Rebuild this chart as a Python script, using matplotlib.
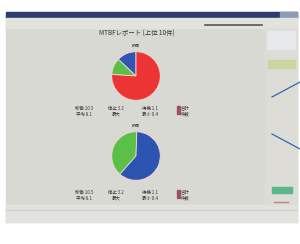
import matplotlib
matplotlib.use("Agg")
import matplotlib.pyplot as plt
from matplotlib.patches import Rectangle

plt.rcParams['font.family'] = ['Noto Sans CJK JP', 'DejaVu Sans']

# data
title = "MTBFレポート (上位 10件)"
pie_labels = ["設備A", "設備B", "設備C"]
top_values = [13, 11, 76]       # blue, green, red
top_colors = ["#3454b4", "#5cc046", "#ec3434"]
bottom_values = [39, 61]        # green, blue
bottom_colors = ["#5cbf48", "#2c54b0"]
legend_rows = [["稼働 10.5", "停止 3.2", "待機 1.1", "合計"],
               ["平均 8.1", "最大", "最小 0.4", "件数"]]


def main():
    fig = plt.figure(figsize=(3.0, 2.44), dpi=100)
    fig.patch.set_facecolor("white")

    # full-figure axes in pixel coordinates for the window frame
    ui = fig.add_axes([0, 0, 1, 1])
    ui.set_xlim(0, 300)
    ui.set_ylim(244, 0)
    ui.axis("off")

    # window body
    ui.add_patch(Rectangle((6, 12), 291, 210, color="#d9d9d3", zorder=0))
    # title bar
    ui.add_patch(Rectangle((6, 12), 291, 5.5, color="#2c3c70", zorder=1))
    ui.add_patch(Rectangle((280, 12), 17, 5.5, color="#8f9ab8", zorder=1))
    # toolbar strip
    ui.add_patch(Rectangle((6, 17.5), 291, 10, color="#e2e4dc", zorder=1))
    ui.plot([205, 262], [25, 25], color="#555555", lw=1.2, zorder=2)
    # right side panel
    ui.add_patch(Rectangle((265, 27.5), 32, 178, color="#dddcd6", zorder=1))
    ui.add_patch(Rectangle((267, 31), 28, 18, color="#e6e8ec", zorder=2))
    ui.add_patch(Rectangle((268, 60), 27, 8, color="#c9d6a0", zorder=2))
    ui.add_patch(Rectangle((272, 187), 20, 6, color="#5ab888", zorder=2))
    ui.plot([274, 288], [202, 202], color="#c08080", lw=1, zorder=2)
    # bottom status strip
    ui.add_patch(Rectangle((6, 205), 291, 17, color="#e2e2de", zorder=1))
    ui.plot([6, 297], [210, 210], color="#cfcfca", lw=0.8, zorder=2)

    # header text
    ui.text(137, 34, title, fontsize=4.6, color="#333333",
            ha="center", va="center", zorder=3)
    ui.text(136, 46, "設備", fontsize=2.8, color="#444444",
            ha="center", va="center", zorder=3)
    ui.text(136, 126, "設備", fontsize=2.8, color="#444444",
            ha="center", va="center", zorder=3)

    # legend blocks under each pie
    cols = [84, 116, 150, 185]
    for y0 in (108, 192):
        for r, row in enumerate(legend_rows):
            for c, txt in enumerate(row):
                ui.text(cols[c], y0 + r * 6, txt, fontsize=3.2, color="#333333",
                        ha="center", va="center", zorder=3)
        ui.add_patch(Rectangle((177, y0 - 2), 3, 8, color="#9a5060", zorder=3))

    # annotation lines outside the window
    ui.plot([272, 300], [97, 82], color="#2a6cb4", lw=0.9, zorder=4)
    ui.plot([272, 300], [134, 149], color="#2a6cb4", lw=0.9, zorder=4)

    # pie charts
    for cy, vals, cols_, start in [(76, top_values, top_colors, 90),
                                   (156, bottom_values, bottom_colors, 88)]:
        r = 25
        ax = fig.add_axes([(136 - r) / 300, 1 - (cy + r) / 244,
                           2 * r / 300, 2 * r / 244])
        ax.pie(vals, colors=cols_, startangle=start, counterclock=True,
               wedgeprops=dict(linewidth=0.6, edgecolor="#f0d8d8"))
        ax.set_xlim(-1.03, 1.03)
        ax.set_ylim(-1.03, 1.03)
        ax.axis("off")

    fig.savefig("out.png", dpi=100, facecolor="white")


if __name__ == "__main__":
    main()
